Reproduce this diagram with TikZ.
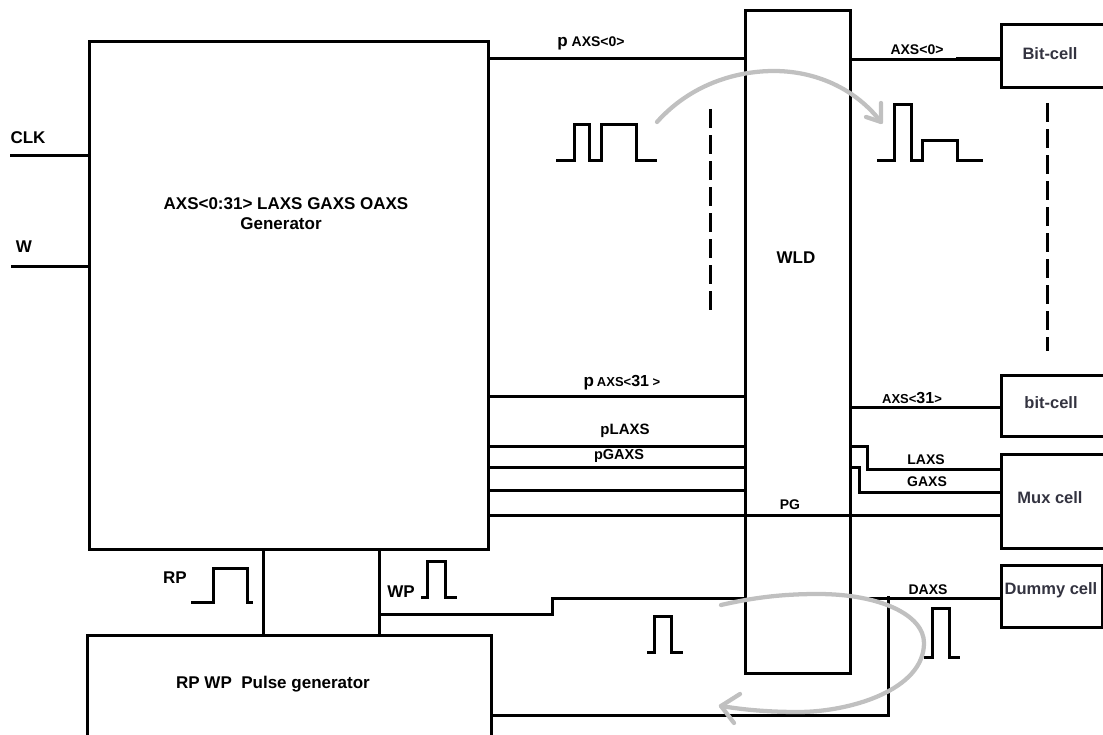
\documentclass[tikz,border=0pt]{standalone}
\usepackage{fontspec}
\setmainfont{Liberation Sans}
\usetikzlibrary{fit}
\newcommand{\fsz}[1]{\fontsize{\dimexpr #1pt*3/4\relax}{\dimexpr #1pt*3/4\relax}\selectfont}
\definecolor{celltext}{HTML}{333340}
\definecolor{arcgrey}{HTML}{C0C0C0}
\tikzset{
  x=0.75pt,y=-0.75pt,
  wire/.style={line width=2.25pt,line cap=butt},
  thinwire/.style={line width=2.25pt},
  blockbox/.style={draw,line width=2.25pt,inner sep=0pt},
  lbl/.style={inner sep=0pt,yshift=-0.75pt,font=\bfseries\fsz{17}},
  sigl/.style={inner sep=0pt,yshift=-0.75pt,font=\bfseries\fsz{14}},
  celll/.style={inner sep=0pt,yshift=-0.75pt,text=celltext,font=\bfseries\fsz{16.5}},
  pulse/.style={line width=2.25pt,line join=miter},
  arc/.style={draw=arcgrey,line width=3.2pt,line cap=round,line join=round},
  dashv/.style={line width=2.25pt,dash pattern=on 14.25pt off 5.25pt},
}
\begin{document}
\begin{tikzpicture}
\useasboundingbox (0,0) rectangle (1103,735);
% blocks
\node[blockbox,fit={(89,42)(488,549)}] (gen) {};
\node[blockbox,fit={(745,11)(850,673)}] (wld) {};
\node[blockbox,fit={(87,635)(491,745)}] (pgen) {};
\node[blockbox,fit={(1001,25)(1104,88)}] (cell0) {};
\node[blockbox,fit={(1001,375)(1104,436)}] (cell31) {};
\node[blockbox,fit={(1001,454)(1104,548)}] (mux) {};
\node[blockbox,fit={(1001,565)(1102,627)}] (dummy) {};
% free ends
\coordinate (clkin) at (10,155);
\coordinate (win) at (11,266);
% inputs
\draw[wire] (clkin) -- (gen.west |- clkin);
\draw[wire] (win) -- (gen.west |- win);
% generator to WLD
\draw[wire] (gen.east |- 0,59) -- (wld.west |- 0,59);
\draw[wire] (gen.east |- 0,396) -- (wld.west |- 0,396);
\draw[wire] (gen.east |- 0,446) -- (wld.west |- 0,446);
\draw[thinwire] (gen.east |- 0,467) -- (wld.west |- 0,467);
\draw[wire] (gen.east |- 0,490) -- (wld.west |- 0,490);
\draw[wire] (gen.east |- 0,515) -- (mux.west |- 0,515);
% WLD to cells
\draw[thinwire] (wld.east |- 0,60) -- (956,60);
\draw[line width=3pt] (956,59) -- (cell0.west |- 0,59);
\draw[thinwire] (wld.east |- 0,407) -- (cell31.west |- 0,407);
\draw[thinwire] (wld.east |- 0,446) -- (867,446) -- (867,469) -- (mux.west |- 0,469);
\draw[thinwire] (wld.east |- 0,467) -- (859,467) -- (859,492) -- (mux.west |- 0,492);
% generator / pulse generator
\draw[wire] (gen.south -| 263,0) -- (pgen.north -| 263,0);
\draw[wire] (gen.south -| 379,0) -- (pgen.north -| 379,0);
\draw[wire] (379,614) -- (552,614) -- (552,598) -- (wld.west |- 0,598);
\draw[wire] (861,598) -- (dummy.west |- 0,598);
\draw[wire] (888.5,596) -- (888.5,715) -- (pgen.east |- 0,715);
% pulses
\draw[pulse] (556,160) -- (574,160) -- (574,124) -- (589,124) -- (589,160) -- (601,160) -- (601,124) -- (636,124) -- (636,160) -- (657,160);
\draw[pulse] (877,160) -- (894,160) -- (894,105) -- (911,105) -- (911,160) -- (922,160) -- (922,140) -- (957,140) -- (957,160) -- (983,160);
\draw[pulse] (191,602) -- (213,602) -- (213,568) -- (247,568) -- (247,602) -- (253,602);
\draw[pulse] (421,597) -- (427,597) -- (427,561) -- (445,561) -- (445,597) -- (457,597);
\draw[pulse] (647,652) -- (654,652) -- (654,616) -- (671,616) -- (671,652) -- (683,652);
\draw[pulse] (924,657) -- (932,657) -- (932,608) -- (949,608) -- (949,657) -- (960,657);
% dashed
\draw[dashv] (710,109) -- (710,310);
\draw[dashv] (1047,103) -- (1047,351);
% grey arcs
\draw[arc] (657,122) .. controls (690,85) and (735,71) .. (774,71) .. controls (815,71) and (855,88) .. (881,122);
\draw[arc] (881,103) -- (881,122) -- (866,117);
\draw[arc] (721,605) .. controls (760,596) and (790,594) .. (818,594) .. controls (880,594) and (924,615) .. (924,643) .. controls (924,690) and (850,712) .. (798,712) .. controls (770,712) and (745,710) .. (721,706);
\draw[arc] (740,694) -- (721,706) -- (734,723);
% labels
\node[lbl] (tclk) at (28,137) {CLK};
\node[lbl] (tw) at (24,246) {W};
\node[lbl] (tgen1) at (286,203) {AXS<0:31> LAXS GAXS OAXS};
\node[lbl] (tgen2) at (281,223) {Generator};
\node[lbl] (twld) at (796,257) {WLD};
\node[lbl] (trp) at (175,577) {RP};
\node[lbl] (twp) at (401,591) {WP};
\node[lbl] (tpg) at (273,683) {RP WP\ \ Pulse generator};
\node[sigl] (tp0) at (591,42) {{\fsz{17}p} AXS<0>};
\node[sigl] (ta0) at (917,49) {AXS<0>};
\node[sigl] (tp31) at (622,382) {{\fsz{17}p\,}{\fsz{13}AXS<}{\fsz{16}31}{\fsz{13} >}};
\node[sigl] (ta31) at (912,397) {{\fsz{13}AXS<}{\fsz{16}31}{\fsz{13}>}};
\node[sigl,font=\bfseries\fsz{15}] (tpl) at (625,430) {pLAXS};
\node[sigl,font=\bfseries\fsz{14.5}] (tpgx) at (619,455) {pGAXS};
\node[sigl] (tl) at (926,459) {LAXS};
\node[sigl] (tgx) at (927,481) {GAXS};
\node[sigl] (tpgl) at (790,504) {PG};
\node[sigl] (td) at (928,589) {DAXS};
\node[celll] (tc0) at (1050,53) {Bit-cell};
\node[celll] (tc31) at (1051,402) {bit-cell};
\node[celll] (tmux) at (1050,497) {Mux cell};
\node[celll] (tdum) at (1051,589) {Dummy cell};
\end{tikzpicture}
\end{document}
